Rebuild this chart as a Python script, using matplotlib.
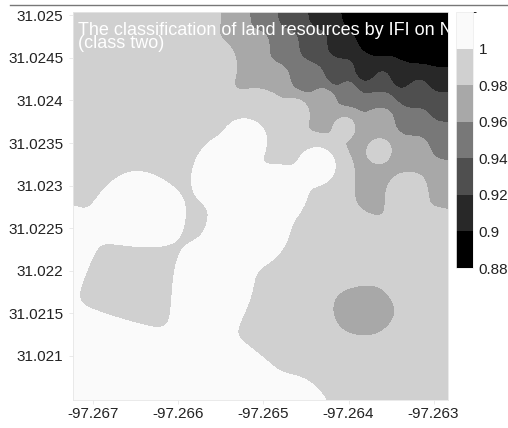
import numpy as np
import matplotlib
matplotlib.use("Agg")
import matplotlib.pyplot as plt
from matplotlib.colors import ListedColormap, BoundaryNorm
from matplotlib.cm import ScalarMappable
from matplotlib.lines import Line2D

plt.rcParams['font.family'] = ['Liberation Sans', 'DejaVu Sans']

# Sample points: longitude, latitude and index value
lon = [-97.26531, -97.26509, -97.26488, -97.26427, -97.26362, -97.26321, -97.26289,
       -97.26501, -97.26476, -97.26451, -97.26404, -97.26362, -97.26321, -97.26289,
       -97.26468, -97.26442, -97.26413, -97.26362, -97.26321, -97.26289,
       -97.26432, -97.26411, -97.26380, -97.26339, -97.26289,
       -97.26386, -97.26339, -97.26292, -97.26368, -97.26327, -97.26289,
       -97.26568, -97.26553, -97.26498, -97.26404, -97.26362, -97.26325, -97.26294,
       -97.26709, -97.26609, -97.26668, -97.26586, -97.26462,
       -97.26518, -97.26435, -97.26548, -97.26480, -97.26509, -97.26645, -97.26762,
       -97.26680, -97.26556, -97.26533, -97.26457,
       -97.26654,
       -97.26474, -97.26398, -97.26398, -97.26386, -97.26315, -97.26315]
lat = [31.02500, 31.02465, 31.02424, 31.02403, 31.02381, 31.02342, 31.02305,
       31.02500, 31.02465, 31.02424, 31.02412, 31.02404, 31.02377, 31.02353,
       31.02500, 31.02465, 31.02426, 31.02415, 31.02405, 31.02394,
       31.02500, 31.02465, 31.02433, 31.02426, 31.02423,
       31.02500, 31.02500, 31.02500, 31.02471, 31.02465, 31.02459,
       31.02500, 31.02447, 31.02398, 31.02371, 31.02344, 31.02297, 31.02245,
       31.02353, 31.02359, 31.02459, 31.02465, 31.02389,
       31.02359, 31.02327, 31.02324, 31.02295, 31.02250, 31.02277, 31.02230,
       31.02095, 31.02177, 31.02066, 31.02031,
       31.02183,
       31.02142, 31.02218, 31.02077, 31.02155, 31.02212, 31.02083]
ifi = [0.970, 0.970, 0.970, 0.970, 0.970, 0.970, 0.970,
       0.950, 0.950, 0.950, 0.950, 0.950, 0.950, 0.950,
       0.930, 0.930, 0.930, 0.930, 0.930, 0.930,
       0.910, 0.910, 0.910, 0.910, 0.910,
       0.875, 0.875, 0.875, 0.875, 0.875, 0.875,
       0.990, 0.990, 0.990, 0.985, 0.985, 0.990, 0.990,
       0.990, 0.990, 0.990, 0.990, 0.990,
       1.010, 1.010, 1.010, 1.010, 1.010, 1.010, 1.010,
       1.010, 1.010, 1.010, 1.010,
       0.995,
       0.990, 0.990, 0.990, 0.975, 0.990, 0.990]
idw_power = 3
smooth_sigma = 3.5  # grid cells

levels = [0.88, 0.90, 0.92, 0.94, 0.96, 0.98, 1.00, 1.02]
tick_values = [0.88, 0.90, 0.92, 0.94, 0.96, 0.98, 1.00]
tick_labels = ['0.88', '0.9', '0.92', '0.94', '0.96', '0.98', '1']
x_ticks = [-97.267, -97.266, -97.265, -97.264, -97.263]
y_ticks = [31.021, 31.0215, 31.022, 31.0225, 31.023, 31.0235, 31.024, 31.0245, 31.025]
title = 'The classification of land resources by IFI on N\n(class two)'

xlim = (-97.26724, -97.26283)
ylim = (31.02048, 31.02504)

band_colors = ['#000000', '#282828', '#4f4f4f', '#787878', '#a8a8a8', '#d0d0d0', '#fafafa']
cmap = ListedColormap(band_colors[1:-1])
cmap.set_under(band_colors[0])
cmap.set_over(band_colors[-1])

# Inverse-distance-weighted surface from the sample points
px = np.asarray(lon)
py = np.asarray(lat)
pv = np.asarray(ifi)
gx = np.linspace(xlim[0], xlim[1], 400)
gy = np.linspace(ylim[0], ylim[1], 400)
GX, GY = np.meshgrid(gx, gy)
d2 = (GX[..., None] - px) ** 2 + (GY[..., None] - py) ** 2
w = 1.0 / np.maximum(d2, 1e-16) ** (idw_power / 2)
field = (w * pv).sum(-1) / w.sum(-1)

# Light Gaussian smoothing of the gridded surface
r = int(3 * smooth_sigma)
k = np.exp(-0.5 * (np.arange(-r, r + 1) / smooth_sigma) ** 2)
k /= k.sum()
padded = np.pad(field, r, mode='edge')
padded = np.apply_along_axis(lambda v: np.convolve(v, k, mode='same'), 0, padded)
padded = np.apply_along_axis(lambda v: np.convolve(v, k, mode='same'), 1, padded)
field = padded[r:-r, r:-r]

fig = plt.figure(figsize=(5.08, 4.28), dpi=100)
ax = fig.add_axes([73 / 508, 28 / 428, 375 / 508, 388 / 428])
ax.contourf(GX, GY, field, levels=[0.90, 0.92, 0.94, 0.96, 0.98, 1.00],
            cmap=cmap, extend='both')
ax.set_xlim(xlim)
ax.set_ylim(ylim)
ax.set_xticks(x_ticks)
ax.set_xticklabels([f'{v:g}' for v in x_ticks])
ax.set_yticks(y_ticks)
ax.set_yticklabels([f'{v:g}' for v in y_ticks])
ax.tick_params(axis='both', labelsize=11, length=3, color='#e6e6e6', width=0.6,
               labelcolor='#222222')
ax.tick_params(axis='x', pad=2)
ax.tick_params(axis='y', pad=4)
for s in ax.spines.values():
    s.set_color('#e6e6e6')
    s.set_linewidth(0.6)

ax.text(0.013, (400 - 48) / 388, title, transform=ax.transAxes, color='white',
        fontsize=13, ha='left', va='baseline', linespacing=0.72, clip_on=True)

cax = fig.add_axes([456 / 508, 160 / 428, 17 / 508, 256 / 428])
bar_cmap = ListedColormap(band_colors)
sm = ScalarMappable(norm=BoundaryNorm(levels, bar_cmap.N), cmap=bar_cmap)
cb = fig.colorbar(sm, cax=cax, ticks=tick_values)
cb.ax.set_yticklabels(tick_labels)
cb.ax.tick_params(length=0, labelsize=11, pad=4, labelcolor='#222222')
cb.outline.set_edgecolor('#eeeeee')
cb.outline.set_linewidth(0.6)

fig.add_artist(Line2D([10 / 508, 1.0], [1 - 5 / 428, 1 - 5 / 428],
                      transform=fig.transFigure, color='#777777', linewidth=1.0))

fig.savefig('out.png', dpi=100)
